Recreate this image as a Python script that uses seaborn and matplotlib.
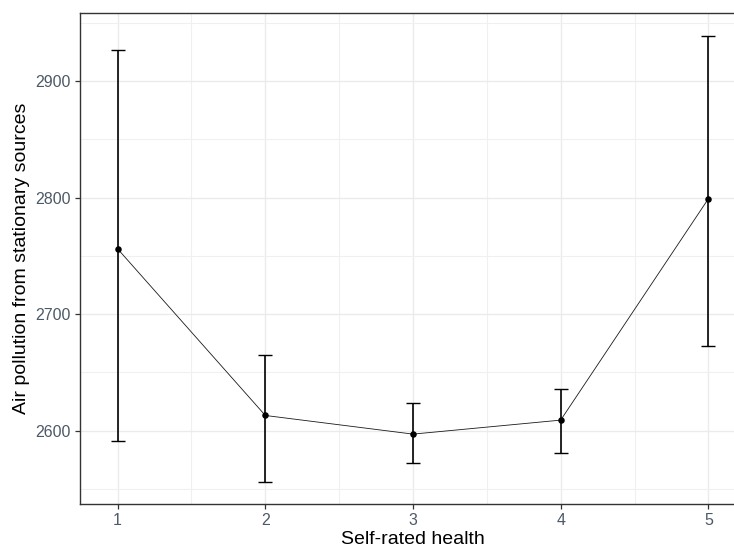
import matplotlib
matplotlib.use('Agg')
import matplotlib.pyplot as plt
from matplotlib.ticker import MultipleLocator
import pandas as pd
import seaborn as sns

# values
health = [1, 2, 3, 4, 5]
pollution_mean = [2756, 2613, 2597, 2609, 2799]
ci_low = [2591, 2556, 2572, 2581, 2673]
ci_high = [2927, 2665, 2624, 2636, 2939]

df = pd.DataFrame({'health': health, 'mean': pollution_mean,
                   'low': ci_low, 'high': ci_high})

sns.set_theme(style='white')
plt.rcParams['font.family'] = ['Liberation Sans', 'DejaVu Sans']

fig = plt.figure(figsize=(7.34, 5.51), dpi=100)
# panel is a bit wider than the picture on the right, as in the reference
ax = fig.add_axes([80 / 734, 47 / 551, 666 / 734, 491 / 551])

# error bars first, then line and points
ax.errorbar(df['health'], df['mean'],
            yerr=[df['mean'] - df['low'], df['high'] - df['mean']],
            fmt='none', ecolor='black', elinewidth=1.2, capsize=5.2,
            capthick=1.0, zorder=3)
sns.lineplot(x='health', y='mean', data=df, color='#1a1a1a', linewidth=0.6,
             ax=ax, zorder=4)
sns.scatterplot(x='health', y='mean', data=df, color='black', s=22,
                edgecolor='black', linewidth=0, ax=ax, zorder=5)

ax.set_xlim(0.745, 5.255)
ax.set_ylim(2537, 2958.5)
ax.xaxis.set_major_locator(MultipleLocator(1))
ax.xaxis.set_minor_locator(MultipleLocator(0.5))
ax.yaxis.set_major_locator(MultipleLocator(100))
ax.yaxis.set_minor_locator(MultipleLocator(50))

ax.grid(which='major', color='#EBEBEB', linewidth=1.0, zorder=0)
ax.grid(which='minor', color='#EFF1F1', linewidth=0.8, zorder=0)
ax.set_axisbelow(True)

for side in ax.spines.values():
    side.set_color('#333333')
    side.set_linewidth(1.0)

ax.tick_params(which='major', length=3.5, width=0.9, color='#333333',
               labelsize=11.5, labelcolor='#4D5966', pad=3,
               bottom=True, left=True)
ax.tick_params(which='minor', length=0)

ax.set_xlabel('Self-rated health', fontsize=14, color='black', labelpad=2)
ax.set_ylabel('Air pollution from stationary sources', fontsize=14,
              color='black', labelpad=4)

fig.savefig('out.png', dpi=100)
